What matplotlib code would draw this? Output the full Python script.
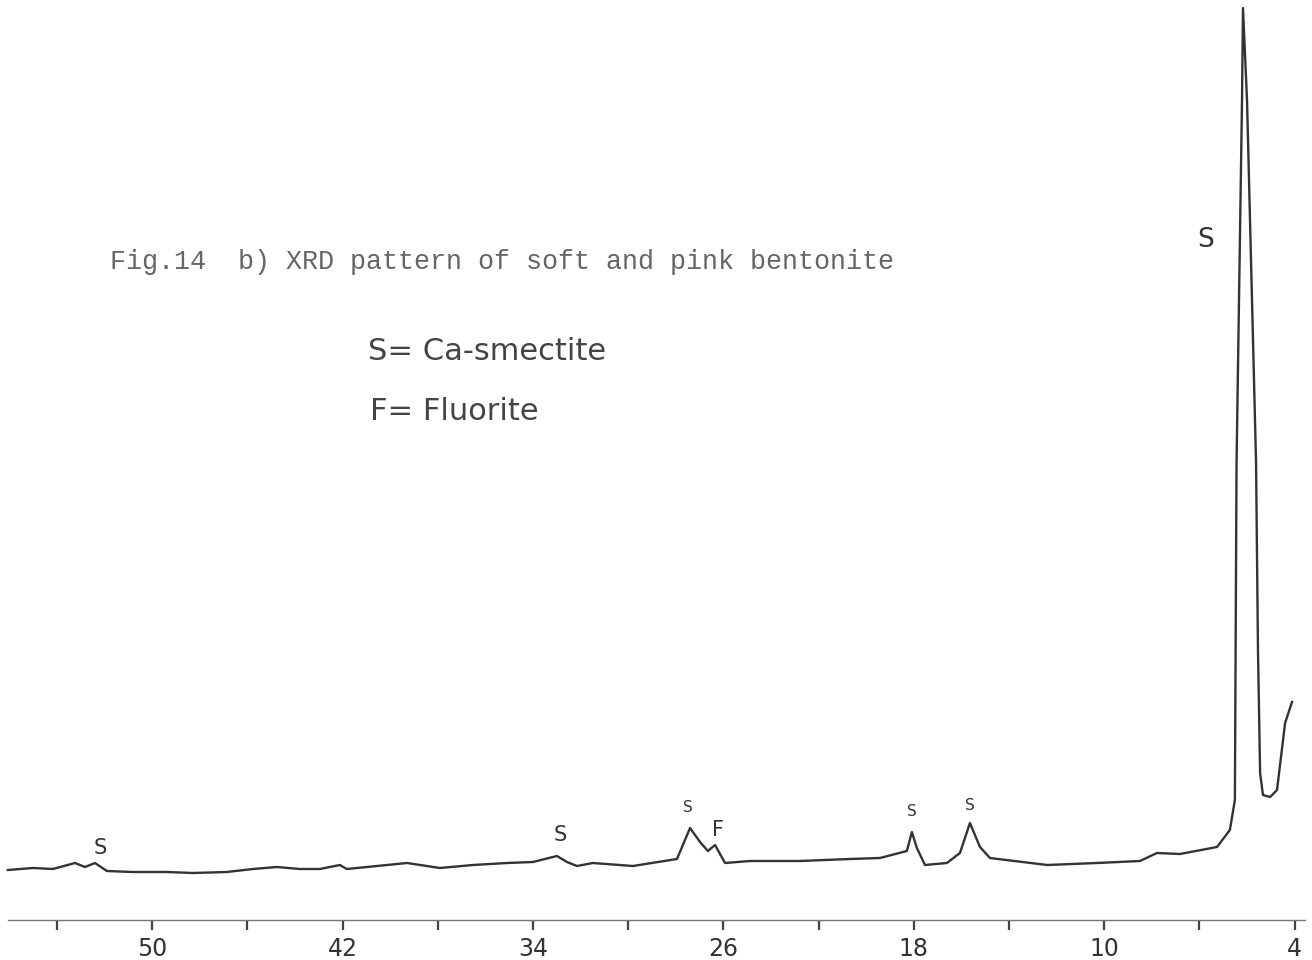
import matplotlib
matplotlib.use("Agg")
import matplotlib.pyplot as plt
import numpy as np

# XRD trace (2-theta in degrees, intensity in arbitrary units)
two_theta = [56.06, 55.01, 54.17, 53.24, 52.82, 52.40, 51.90, 50.81, 49.38, 48.29,
             46.86, 45.76, 44.76, 43.79, 42.95, 42.11, 41.82, 40.97, 39.29, 37.91,
             36.52, 35.09, 34.00, 32.99, 32.57, 32.15, 31.48, 29.80, 27.95, 27.40,
             26.98, 26.65, 26.35, 25.93, 24.88, 22.78, 20.68, 19.42, 18.29, 18.08,
             17.87, 17.53, 16.61, 16.06, 15.64, 15.22, 14.80, 12.40, 10.30, 8.50,
             7.78, 6.82, 5.26, 4.72, 4.51, 4.44, 4.21, 4.17,
             4.00, 3.62, 3.54, 3.45, 3.33, 3.03, 2.74, 2.40, 2.11]
intensity = [50, 52, 51, 57, 53, 57, 49, 48, 48, 47,
             48, 51, 53, 51, 51, 55, 51, 53, 57, 52,
             55, 57, 58, 64, 58, 54, 57, 54, 61, 92,
             78, 69, 75, 57, 59, 59, 61, 62, 69, 88,
             72, 55, 57, 67, 97, 73, 62, 55, 57, 59,
             67, 66, 73, 90, 120, 457, 820, 912,
             820, 457, 270, 147, 125, 123, 130, 197, 218]

tick_pos = [54, 50, 46, 42, 38, 34, 30, 26, 22, 18, 14, 10, 6, 2]
tick_text = ["", "50", "", "42", "", "34", "", "26", "", "18", "", "10", "", "4"]

# peak labels: text, 2-theta, height
peak_text = ["S", "S", "S", "F", "S", "S", "S"]
peak_x = [52.19, 32.87, 27.49, 26.23, 18.08, 15.64, 5.76]
peak_y = [72, 85, 113, 90, 108, 115, 680]
peak_size = [15, 15, 11, 15, 11, 11, 19]

fig = plt.figure(figsize=(13.12, 9.6), dpi=100)
ax = fig.add_axes([0, 40 / 960, 1, 920 / 960])

ax.plot(two_theta, intensity, color="#333333", lw=1.7, solid_joinstyle="round")

ax.set_xlim(56.39, 1.27)
ax.set_ylim(0, 920)

for side in ["top", "right", "left"]:
    ax.spines[side].set_visible(False)
ax.spines["bottom"].set_color("#777777")
ax.spines["bottom"].set_linewidth(1.0)
ax.spines["bottom"].set_bounds(56.05, 1.55)
ax.set_yticks([])
ax.set_xticks(tick_pos)
ax.set_xticklabels(tick_text, fontsize=17, color="#333333")
ax.tick_params(axis="x", direction="out", length=7, width=1.6, color="#444444", pad=5)

for t, x, y, s in zip(peak_text, peak_x, peak_y, peak_size):
    ax.text(x, y, t, fontsize=s, color="#333333", ha="center", va="center")

fig.text(110 / 1312, 1 - 262 / 960, "Fig.14  b) XRD pattern of soft and pink bentonite",
         family="Liberation Mono", fontsize=19.3, color="#666666", va="center")
fig.text(368 / 1312, 1 - 352 / 960, "S= Ca-smectite", fontsize=22, color="#444444", va="center")
fig.text(370 / 1312, 1 - 412 / 960, "F= Fluorite", fontsize=22, color="#444444", va="center")

fig.savefig("out.png", dpi=100, facecolor="white")
